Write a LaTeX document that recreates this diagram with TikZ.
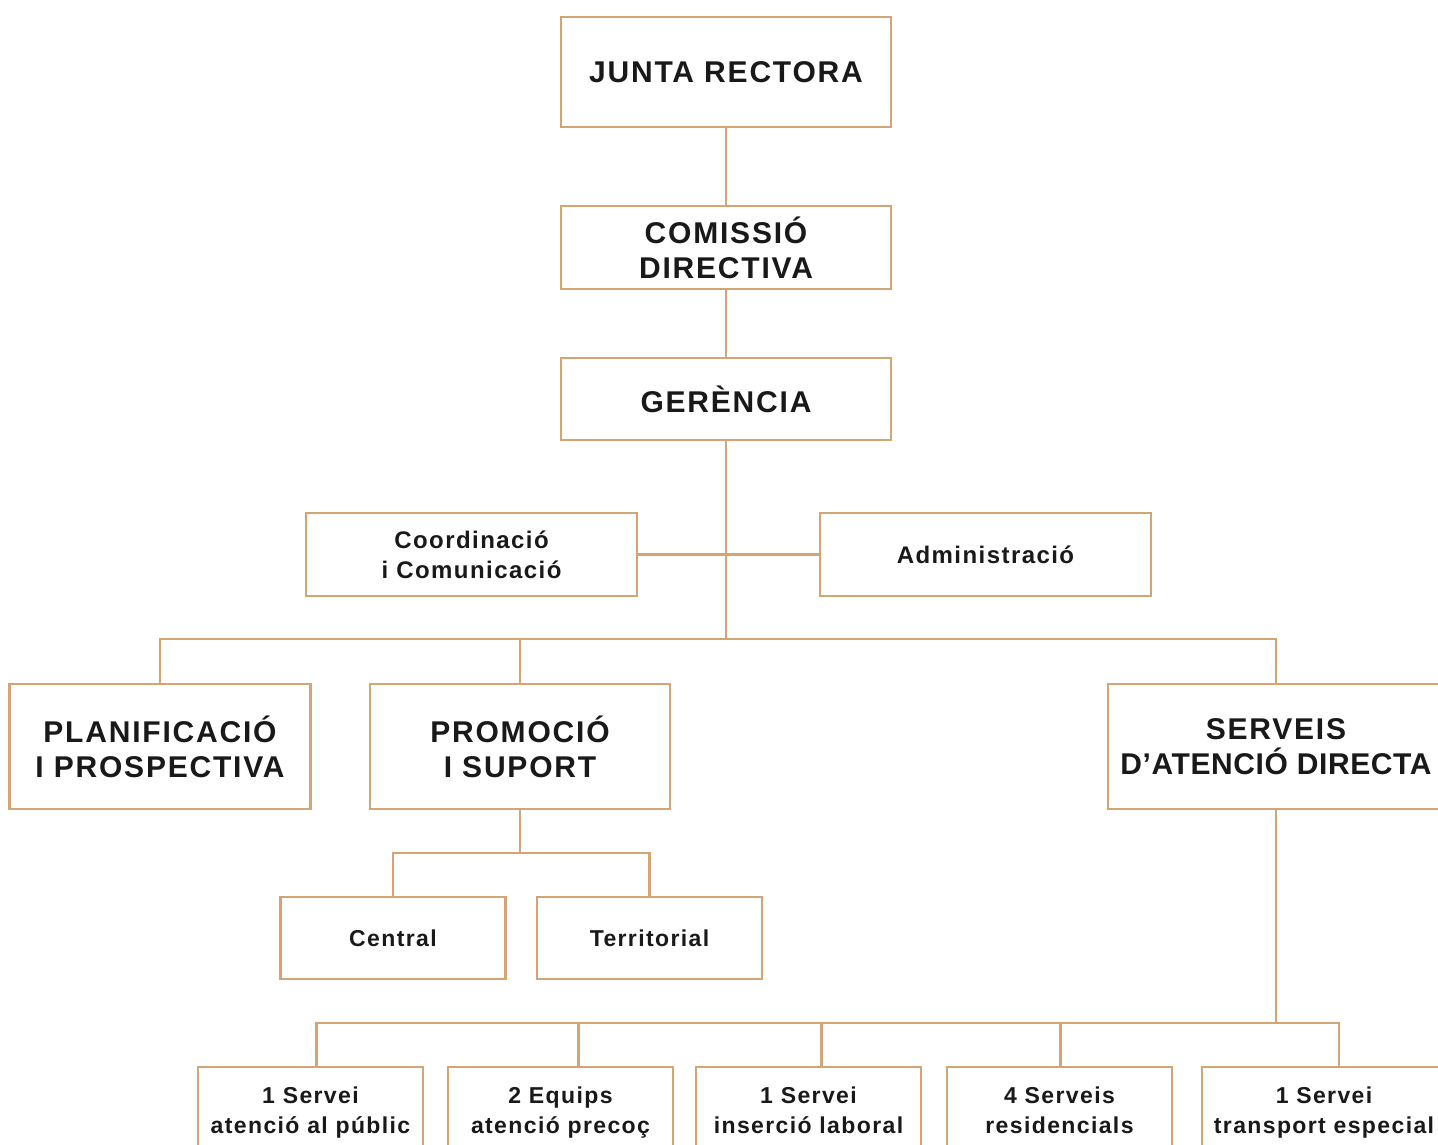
\documentclass[tikz,border=0pt]{standalone}
\usepackage{fontspec}
\setmainfont{Liberation Sans}[LetterSpace=6]
\usetikzlibrary{positioning}
\definecolor{ocre}{HTML}{D4A574}

\begin{document}
\begin{tikzpicture}[
  x=1pt, y=-1pt,
  caixa/.style={rectangle, draw=ocre, fill=white, line width=2.6pt, inner sep=0pt, align=center, text=black!90, font=\bfseries\fontsize{23}{30}\selectfont},
  mitja/.style={caixa, font=\bfseries\fontsize{24}{30}\selectfont},
  servei/.style={caixa, minimum width=225, minimum height=86, text height=52pt, text depth=6pt},
  gran/.style={caixa, font=\bfseries\fontsize{30}{35}\selectfont},
  linia/.style={draw=ocre, line width=2.6pt}
]
\clip (0,0) rectangle (1438,1145);
% direccio
\node[gran, minimum width=330, minimum height=110] (junta) at (726,72) {JUNTA RECTORA};
\node[gran, minimum width=330, minimum height=83] (comissio) at (726,247.5) {COMISSIÓ\\DIRECTIVA};
\node[gran, minimum width=330, minimum height=82] (gerencia) at (726,399) {GERÈNCIA};
\node[mitja, minimum width=331, minimum height=83] (coord) at (471.5,554.5) {Coordinació\\i Comunicació};
\node[mitja, minimum width=331, minimum height=83] (admin) at (985.5,554.5) {Administració};
% arees
\node[gran, minimum width=301, minimum height=125] (planif) at (160,746.5) {PLANIFICACIÓ\\I PROSPECTIVA};
\node[gran, minimum width=300, minimum height=125] (promocio) at (520,746.5) {PROMOCIÓ\\I SUPORT};
\node[gran, minimum width=336, minimum height=125] (serveis) at (1276,746.5) {SERVEIS\\{\addfontfeature{LetterSpace=2}D’ATENCIÓ DIRECTA}};
\node[caixa, minimum width=225, minimum height=82] (central) at (393,938) {Central};
\node[caixa, minimum width=225, minimum height=82] (territ) at (649.5,938) {Territorial};
% serveis
\node[servei] (publ) at (310.5,1110) {1 Servei\\atenció al públic};
\node[servei] (precoc) at (560.5,1110) {2 Equips\\atenció precoç};
\node[servei] (laboral) at (808.5,1110) {1 Servei\\inserció laboral};
\node[servei] (resid) at (1059.5,1110) {4 Serveis\\residencials};
\node[servei, minimum width=244] (transp) at (1324,1110) {1 Servei\\transport especial};
\coordinate (bus1) at (726,639);
\coordinate (bus2) at (520,853);
\coordinate (bus3) at (1276,1023);
\draw[linia] (junta) -- (comissio);
\draw[linia] (comissio) -- (gerencia);
\draw[linia] (gerencia) -- (bus1);
\draw[linia] (coord) -- (admin);
\draw[linia] (planif.north) |- (bus1) -| (serveis.north);
\draw[linia] (promocio.north) -- (promocio.north |- bus1);
\draw[linia] (promocio) -- (bus2);
\draw[linia] (central.north) |- (bus2) -| (territ.north);
\draw[linia] (serveis) -- (bus3);
\draw[linia] ([xshift=6]publ.north) |- (bus3) -| ([xshift=15]transp.north);
\draw[linia] ([xshift=18]precoc.north) -- ([xshift=18]precoc.north |- bus3);
\draw[linia] ([xshift=13]laboral.north) -- ([xshift=13]laboral.north |- bus3);
\draw[linia] ([xshift=1]resid.north) -- ([xshift=1]resid.north |- bus3);
\end{tikzpicture}
\end{document}
